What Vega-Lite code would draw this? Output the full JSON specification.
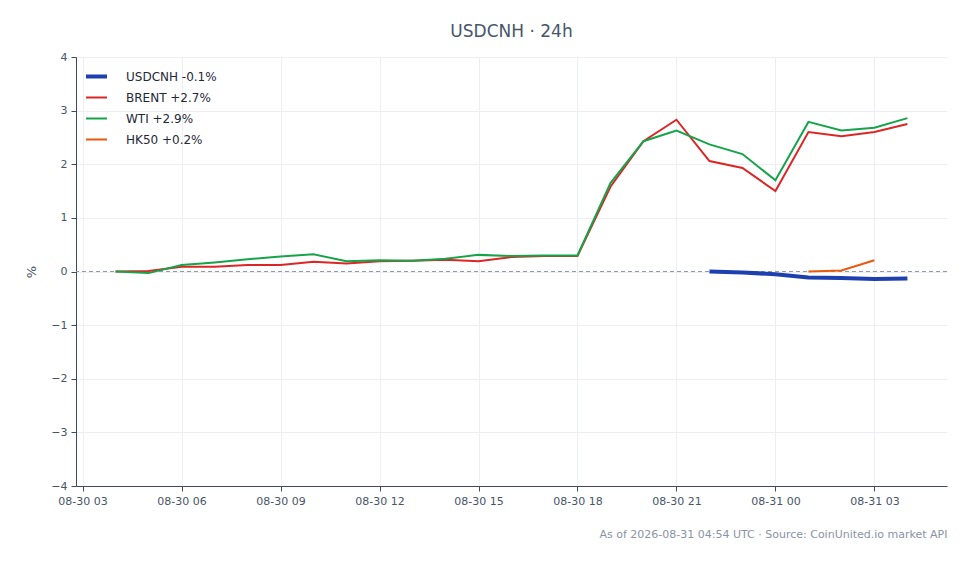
{
  "$schema": "https://vega.github.io/schema/vega-lite/v6.json",
  "width": 871,
  "height": 429,
  "padding": {"left": 25, "top": 23, "right": 5, "bottom": 5},
  "title": {
    "text": "USDCNH · 24h",
    "fontSize": 17,
    "fontWeight": "normal",
    "color": "#475569",
    "anchor": "middle",
    "offset": 10
  },
  "data": {
    "values": [
      {"t": "2026-08-30 04:00", "series": "BRENT +2.7%", "v": 0.0},
      {"t": "2026-08-30 05:00", "series": "BRENT +2.7%", "v": 0.01},
      {"t": "2026-08-30 06:00", "series": "BRENT +2.7%", "v": 0.09},
      {"t": "2026-08-30 07:00", "series": "BRENT +2.7%", "v": 0.09},
      {"t": "2026-08-30 08:00", "series": "BRENT +2.7%", "v": 0.12},
      {"t": "2026-08-30 09:00", "series": "BRENT +2.7%", "v": 0.12},
      {"t": "2026-08-30 10:00", "series": "BRENT +2.7%", "v": 0.18},
      {"t": "2026-08-30 11:00", "series": "BRENT +2.7%", "v": 0.15},
      {"t": "2026-08-30 12:00", "series": "BRENT +2.7%", "v": 0.19},
      {"t": "2026-08-30 13:00", "series": "BRENT +2.7%", "v": 0.20},
      {"t": "2026-08-30 14:00", "series": "BRENT +2.7%", "v": 0.22},
      {"t": "2026-08-30 15:00", "series": "BRENT +2.7%", "v": 0.19},
      {"t": "2026-08-30 16:00", "series": "BRENT +2.7%", "v": 0.27},
      {"t": "2026-08-30 17:00", "series": "BRENT +2.7%", "v": 0.29},
      {"t": "2026-08-30 18:00", "series": "BRENT +2.7%", "v": 0.29},
      {"t": "2026-08-30 19:00", "series": "BRENT +2.7%", "v": 1.58},
      {"t": "2026-08-30 20:00", "series": "BRENT +2.7%", "v": 2.43},
      {"t": "2026-08-30 21:00", "series": "BRENT +2.7%", "v": 2.83},
      {"t": "2026-08-30 22:00", "series": "BRENT +2.7%", "v": 2.06},
      {"t": "2026-08-30 23:00", "series": "BRENT +2.7%", "v": 1.93},
      {"t": "2026-08-31 00:00", "series": "BRENT +2.7%", "v": 1.50},
      {"t": "2026-08-31 01:00", "series": "BRENT +2.7%", "v": 2.60},
      {"t": "2026-08-31 02:00", "series": "BRENT +2.7%", "v": 2.52},
      {"t": "2026-08-31 03:00", "series": "BRENT +2.7%", "v": 2.60},
      {"t": "2026-08-31 04:00", "series": "BRENT +2.7%", "v": 2.75},
      {"t": "2026-08-30 04:00", "series": "WTI +2.9%", "v": 0.0},
      {"t": "2026-08-30 05:00", "series": "WTI +2.9%", "v": -0.03},
      {"t": "2026-08-30 06:00", "series": "WTI +2.9%", "v": 0.12},
      {"t": "2026-08-30 07:00", "series": "WTI +2.9%", "v": 0.17},
      {"t": "2026-08-30 08:00", "series": "WTI +2.9%", "v": 0.23},
      {"t": "2026-08-30 09:00", "series": "WTI +2.9%", "v": 0.28},
      {"t": "2026-08-30 10:00", "series": "WTI +2.9%", "v": 0.32},
      {"t": "2026-08-30 11:00", "series": "WTI +2.9%", "v": 0.19},
      {"t": "2026-08-30 12:00", "series": "WTI +2.9%", "v": 0.21},
      {"t": "2026-08-30 13:00", "series": "WTI +2.9%", "v": 0.20},
      {"t": "2026-08-30 14:00", "series": "WTI +2.9%", "v": 0.24},
      {"t": "2026-08-30 15:00", "series": "WTI +2.9%", "v": 0.31},
      {"t": "2026-08-30 16:00", "series": "WTI +2.9%", "v": 0.29},
      {"t": "2026-08-30 17:00", "series": "WTI +2.9%", "v": 0.30},
      {"t": "2026-08-30 18:00", "series": "WTI +2.9%", "v": 0.30},
      {"t": "2026-08-30 19:00", "series": "WTI +2.9%", "v": 1.65},
      {"t": "2026-08-30 20:00", "series": "WTI +2.9%", "v": 2.43},
      {"t": "2026-08-30 21:00", "series": "WTI +2.9%", "v": 2.63},
      {"t": "2026-08-30 22:00", "series": "WTI +2.9%", "v": 2.37},
      {"t": "2026-08-30 23:00", "series": "WTI +2.9%", "v": 2.19},
      {"t": "2026-08-31 00:00", "series": "WTI +2.9%", "v": 1.70},
      {"t": "2026-08-31 01:00", "series": "WTI +2.9%", "v": 2.79},
      {"t": "2026-08-31 02:00", "series": "WTI +2.9%", "v": 2.63},
      {"t": "2026-08-31 03:00", "series": "WTI +2.9%", "v": 2.68},
      {"t": "2026-08-31 04:00", "series": "WTI +2.9%", "v": 2.86},
      {"t": "2026-08-31 01:00", "series": "HK50 +0.2%", "v": 0.0},
      {"t": "2026-08-31 02:00", "series": "HK50 +0.2%", "v": 0.02},
      {"t": "2026-08-31 03:00", "series": "HK50 +0.2%", "v": 0.21},
      {"t": "2026-08-30 22:00", "series": "USDCNH -0.1%", "v": 0.0},
      {"t": "2026-08-30 23:00", "series": "USDCNH -0.1%", "v": -0.02},
      {"t": "2026-08-31 00:00", "series": "USDCNH -0.1%", "v": -0.05},
      {"t": "2026-08-31 01:00", "series": "USDCNH -0.1%", "v": -0.11},
      {"t": "2026-08-31 02:00", "series": "USDCNH -0.1%", "v": -0.12},
      {"t": "2026-08-31 03:00", "series": "USDCNH -0.1%", "v": -0.14},
      {"t": "2026-08-31 04:00", "series": "USDCNH -0.1%", "v": -0.13}
    ]
  },
  "layer": [
    {
      "mark": {"type": "rule", "color": "#8e9ab5", "strokeDash": [4, 3], "strokeWidth": 1},
      "encoding": {"y": {"datum": 0, "type": "quantitative"}}
    },
    {
      "mark": {"type": "line"},
      "encoding": {
        "x": {
          "field": "t",
          "type": "temporal",
          "scale": {
            "domain": [
              {"year": 2026, "month": 8, "date": 30, "hours": 2, "minutes": 48},
              {"year": 2026, "month": 8, "date": 31, "hours": 5, "minutes": 12}
            ]
          },
          "axis": {
            "format": "%m-%d %H",
            "tickCount": 9,
            "title": "As of 2026-08-31 04:54 UTC · Source: CoinUnited.io market API",
            "titleAnchor": "end",
            "titleFontSize": 11,
            "titleFontWeight": "normal",
            "titleColor": "#8a94a6",
            "titlePadding": 22
          }
        },
        "y": {
          "field": "v",
          "type": "quantitative",
          "scale": {"domain": [-4, 4]},
          "axis": {"title": "%", "tickCount": 8, "titlePadding": 12}
        },
        "color": {
          "field": "series",
          "type": "nominal",
          "scale": {
            "domain": ["USDCNH -0.1%", "BRENT +2.7%", "WTI +2.9%", "HK50 +0.2%"],
            "range": ["#1e40af", "#dc2626", "#16a34a", "#ea580c"]
          },
          "legend": {
            "title": null,
            "encode": {
              "symbols": {
                "update": {
                  "strokeWidth": {"signal": "datum.value === 'USDCNH -0.1%' ? 4 : 2"}
                }
              }
            }
          }
        },
        "strokeWidth": {
          "condition": {"test": "datum.series === 'USDCNH -0.1%'", "value": 4},
          "value": 2
        }
      }
    }
  ],
  "config": {
    "font": "DejaVu Sans",
    "view": {"stroke": null},
    "axis": {
      "grid": true,
      "gridColor": "#eceef3",
      "domainColor": "#3f4a5c",
      "tickColor": "#3f4a5c",
      "labelColor": "#475569",
      "labelFontSize": 11,
      "titleColor": "#475569",
      "titleFontWeight": "normal",
      "titleFontSize": 13,
      "tickSize": 5,
      "labelPadding": 4
    },
    "legend": {
      "orient": "top-left",
      "offset": 10,
      "symbolType": "stroke",
      "symbolSize": 900,
      "symbolStrokeWidth": 2.5,
      "labelFontSize": 12,
      "labelColor": "#1f2937",
      "labelOffset": 28,
      "clipHeight": 19,
      "rowPadding": 2
    }
  }
}
